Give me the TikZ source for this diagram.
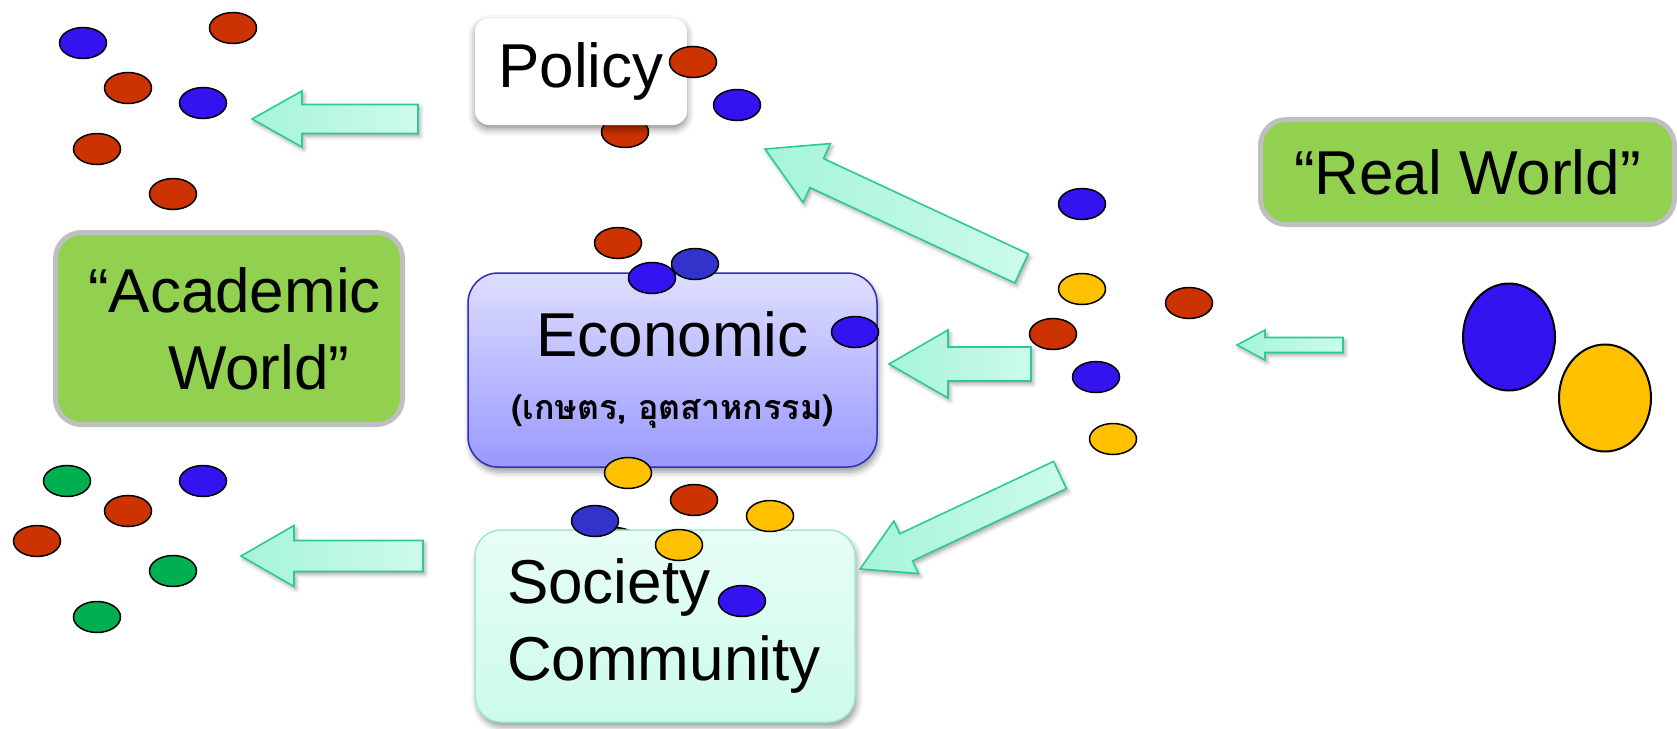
\documentclass[tikz,border=0pt]{standalone}
\usepackage{fontspec}
\setmainfont{Liberation Sans}
\newfontfamily\thaifont[Script=Thai]{Loma}
\usetikzlibrary{shapes.geometric,calc,shadows.blur}

\definecolor{beadred}{HTML}{CC3300}
\definecolor{beadblue}{HTML}{3314F0}
\definecolor{beadnavy}{HTML}{3333CC}
\definecolor{beadyellow}{HTML}{FFC000}
\definecolor{beadgreen}{HTML}{00B050}
\definecolor{lime}{HTML}{92D050}
\definecolor{limeline}{HTML}{BFBFBF}
\definecolor{mintline}{HTML}{2CC99A}
\definecolor{mintdark}{HTML}{A6F4DA}
\definecolor{mintlight}{HTML}{CCFBEB}

% block arrow: tail, tip, half shaft, half head, head length
\newcommand\blockarrow[5]{%
  \coordinate (ba-base) at ($(#2)!#5!(#1)$);
  \draw[mint arrow] ($(#1)!#3!90:(#2)$) -- ($(ba-base)!#3!90:(#2)$)
    -- ($(ba-base)!#4!90:(#2)$) -- (#2) -- ($(ba-base)!#4!-90:(#2)$)
    -- ($(ba-base)!#3!-90:(#2)$) -- ($(#1)!#3!-90:(#2)$) -- cycle;
}

\begin{document}
\begin{tikzpicture}[x=1pt,y=-1pt,
  bead/.style={ellipse,draw,line width=1.5pt,minimum width=47pt,minimum height=31pt,inner sep=0pt,fill=#1},
  big bead/.style={ellipse,draw,line width=2pt,minimum width=92pt,minimum height=107pt,inner sep=0pt,fill=#1},
  box font/.style={font=\fontsize{62}{77}\selectfont},
  greenbox/.style={box font,draw=limeline,line width=5pt,fill=lime,rounded corners=26pt},
  policybox/.style={box font,fill=white,rounded corners=14pt,minimum width=212pt,minimum height=107pt,
    blur shadow={shadow xshift=0pt,shadow yshift=-4pt,shadow blur radius=7pt,shadow opacity=45}},
  econbox/.style={box font,draw=beadnavy!90!black,line width=1.5pt,top color=blue!13,bottom color=blue!40,
    rounded corners=30pt,minimum width=409pt,minimum height=194pt,align=center,
    blur shadow={shadow xshift=2pt,shadow yshift=-5pt,shadow blur radius=6pt,shadow opacity=40}},
  socbox/.style={box font,draw=mintline!45,line width=1.5pt,top color=mintlight!45,bottom color=mintlight,
    rounded corners=26pt,text width=316pt,inner xsep=32pt,minimum height=192pt,align=left,
    blur shadow={shadow xshift=2pt,shadow yshift=-5pt,shadow blur radius=6pt,shadow opacity=40}},
  mint arrow/.style={draw=mintline,line width=1.6pt,left color=mintdark,right color=mintlight,
    blur shadow={shadow xshift=2pt,shadow yshift=-3pt,shadow blur radius=4pt,shadow opacity=35}}]

  \useasboundingbox (0,0) rectangle (1677,728);

  % beads that sit behind the boxes
  \node[bead=beadred] (p3) at (625,132) {};
  \node[bead=beadred] (s7) at (615,543) {};

  % boxes
  \node[greenbox,minimum width=347pt,minimum height=192pt,text width=282pt,inner xsep=32pt,align=left] (acad) at (229,328.5) {“Academic\\\hspace*{80pt}World”};
  \node[greenbox,minimum width=414pt,minimum height=105pt] (real) at (1467.5,172) {“Real World”};
  \node[policybox] (policy) at (581,71.5) {Policy};
  \node[econbox] (econ) at (672.5,370) {Economic\\[-14pt]{\thaifont\bfseries\fontsize{34}{40}\selectfont(เกษตร, อุตสาหกรรม)}};
  \node[socbox] (soc) at (665,626) {Society\\Community};

  % beads, upper left
  \node[bead=beadblue] (a1) at (83,43) {};
  \node[bead=beadred] (a2) at (233,28) {};
  \node[bead=beadred] (a3) at (128,88) {};
  \node[bead=beadblue] (a4) at (203,103) {};
  \node[bead=beadred] (a5) at (97,149) {};
  \node[bead=beadred] (a6) at (173,194) {};

  % beads round policy and economic
  \node[bead=beadred] (p1) at (693,62) {};
  \node[bead=beadblue] (p2) at (737,105) {};
  \node[bead=beadred] (e1) at (618,243) {};
  \node[bead=beadnavy] (e2) at (695,264) {};
  \node[bead=beadblue] (e3) at (652,278) {};
  \node[bead=beadblue] (e4) at (855,332) {};

  % beads between economic and society
  \node[bead=beadyellow] (s1) at (628,473) {};
  \node[bead=beadred] (s2) at (694,500) {};
  \node[bead=beadyellow] (s3) at (770,516) {};
  \node[bead=beadnavy] (s4) at (595,521) {};
  \node[bead=beadyellow] (s5) at (679,545) {};
  \node[bead=beadblue] (s6) at (742,601) {};

  % beads, right
  \node[bead=beadblue] (r1) at (1082,204) {};
  \node[bead=beadyellow] (r2) at (1082,289) {};
  \node[bead=beadred] (r3) at (1189,303) {};
  \node[bead=beadred] (r4) at (1053,334) {};
  \node[bead=beadblue] (r5) at (1096,377) {};
  \node[bead=beadyellow] (r6) at (1113,439) {};

  % beads, lower left
  \node[bead=beadgreen] (b1) at (67,481) {};
  \node[bead=beadblue] (b2) at (203,481) {};
  \node[bead=beadred] (b3) at (128,511) {};
  \node[bead=beadred] (b4) at (37,541) {};
  \node[bead=beadgreen] (b5) at (173,571) {};
  \node[bead=beadgreen] (b6) at (97,617) {};

  % the two big ones
  \node[big bead=beadblue] (big1) at (1509,337) {};
  \node[big bead=beadyellow] (big2) at (1605,398) {};

  % arrow ends
  \coordinate (t1) at (418,119);   \coordinate (h1) at (252,119);
  \coordinate (t2) at (1021.5,268.5); \coordinate (h2) at (765,149);
  \coordinate (t3) at (1031,364);  \coordinate (h3) at (889,364);
  \coordinate (t4) at (1060,475);  \coordinate (h4) at (860,569);
  \coordinate (t5) at (423,556);   \coordinate (h5) at (241,556);
  \coordinate (t6) at (1343,345);  \coordinate (h6) at (1237,345);

  \blockarrow{t1}{h1}{14.5pt}{28pt}{50pt}
  \blockarrow{t2}{h2}{16pt}{32.5pt}{57pt}
  \blockarrow{t3}{h3}{17pt}{34pt}{59pt}
  \blockarrow{t4}{h4}{15pt}{29pt}{51pt}
  \blockarrow{t5}{h5}{15.5pt}{30.5pt}{53pt}
  \blockarrow{t6}{h6}{7.5pt}{15pt}{28pt}

\end{tikzpicture}
\end{document}
